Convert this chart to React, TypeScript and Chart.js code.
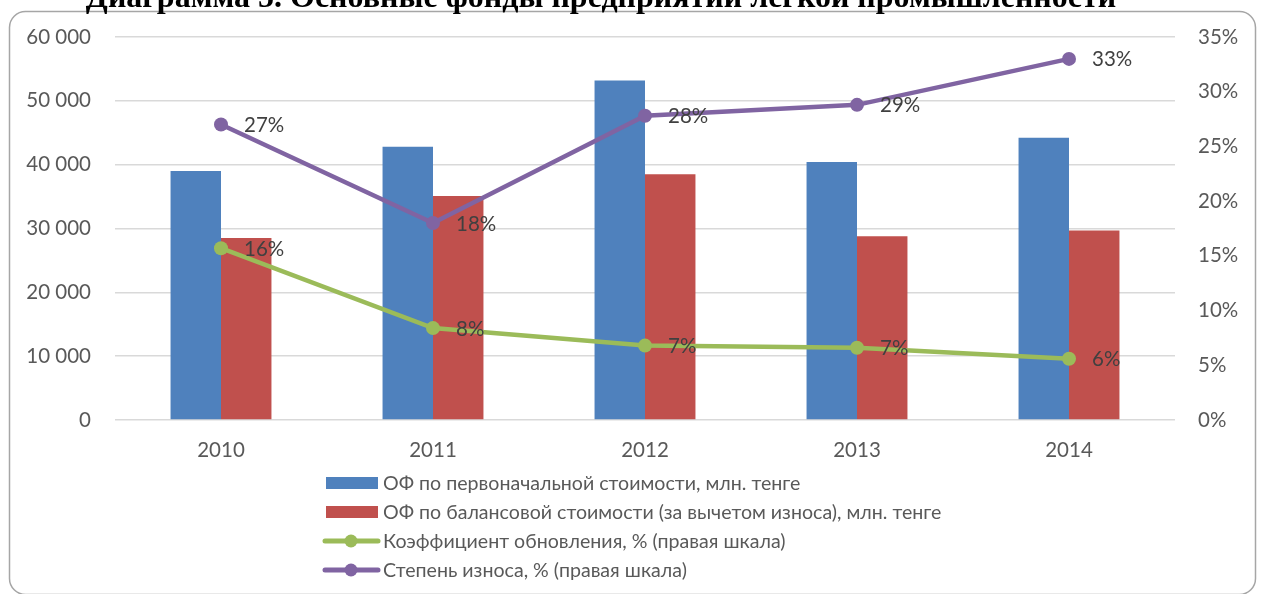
import React, { useEffect, useRef } from "react";
import { Chart, registerables } from "chart.js";

Chart.register(...registerables);

const TITLE = "Диаграмма 5. Основные фонды предприятий легкой промышленности";
const years = ["2010", "2011", "2012", "2013", "2014"];
const initialCost = [39000, 42800, 53200, 40400, 44200];
const balanceCost = [28500, 35100, 38500, 28800, 29700];
const renewalRate = [15.7, 8.4, 6.8, 6.6, 5.6];
const wearRate = [27.0, 18.0, 27.8, 28.8, 33.0];
const leftTicks = [0, 10000, 20000, 30000, 40000, 50000, 60000];
const rightTicks = [0, 5, 10, 15, 20, 25, 30, 35];

const seriesNames = [
  "ОФ по первоначальной стоимости, млн. тенге",
  "ОФ по балансовой стоимости (за вычетом износа), млн. тенге",
  "Коэффициент обновления, % (правая шкала)",
  "Степень износа, % (правая шкала)",
];
const colors = ["#4F81BD", "#C0504D", "#9BBB59", "#8064A2"];

const FONT = "Lato, 'Open Sans', sans-serif";
const FS = 20.5;
const LEGEND_FS = 19.6;

const fmtThousands = (v: number) =>
  String(v).replace(/\B(?=(\d{3})+(?!\d))/g, " ");

const decorPlugin = {
  id: "decor",
  beforeDraw(chart: any) {
    const ctx = chart.ctx;
    ctx.save();
    ctx.fillStyle = "#ffffff";
    ctx.fillRect(0, 0, chart.width, chart.height);
    ctx.beginPath();
    ctx.roundRect(9.5, 11.5, 1246, 583, 16);
    ctx.strokeStyle = "#a6a6a6";
    ctx.lineWidth = 1.5;
    ctx.stroke();
    ctx.font = `bold 32px 'Liberation Serif', serif`;
    ctx.fillStyle = "#000000";
    ctx.textAlign = "center";
    ctx.textBaseline = "alphabetic";
    ctx.fillText(TITLE, 601, 7);
    ctx.restore();
  },
  afterDatasetsDraw(chart: any) {
    const ctx = chart.ctx;
    ctx.save();
    ctx.font = `${FS}px ${FONT}`;
    ctx.fillStyle = "#404040";
    ctx.textAlign = "left";
    ctx.textBaseline = "middle";
    chart.data.datasets.forEach((ds: any, i: number) => {
      if (ds.type !== "line") return;
      const meta = chart.getDatasetMeta(i);
      meta.data.forEach((pt: any, j: number) => {
        ctx.fillText(Math.round(ds.data[j]) + "%", pt.x + 23, pt.y + 1);
      });
    });
    ctx.restore();
  },
  afterDraw(chart: any) {
    const ctx = chart.ctx;
    ctx.save();
    const rows = [483, 512, 541, 570];
    ctx.font = `${LEGEND_FS}px ${FONT}`;
    ctx.textAlign = "left";
    ctx.textBaseline = "middle";
    seriesNames.forEach((name, i) => {
      const y = rows[i];
      if (i < 2) {
        ctx.fillStyle = colors[i];
        ctx.fillRect(326, y - 6, 52, 12);
      } else {
        ctx.strokeStyle = colors[i];
        ctx.lineWidth = 5;
        ctx.lineCap = "round";
        ctx.beginPath();
        ctx.moveTo(325, y);
        ctx.lineTo(378, y);
        ctx.stroke();
        ctx.fillStyle = colors[i];
        ctx.beginPath();
        ctx.arc(351, y, 6.5, 0, Math.PI * 2);
        ctx.fill();
      }
      ctx.fillStyle = "#595959";
      ctx.fillText(name, 383, y + 1);
    });
    ctx.restore();
  },
};

export default function App() {
  const ref = useRef<HTMLCanvasElement | null>(null);
  useEffect(() => {
    if (!ref.current) return;
    const chart = new Chart(ref.current, {
      type: "bar",
      data: {
        labels: years,
        datasets: [
          {
            type: "line",
            label: seriesNames[2],
            data: renewalRate,
            yAxisID: "y1",
            borderColor: colors[2],
            backgroundColor: colors[2],
            borderWidth: 4.5,
            pointRadius: 7,
            pointBackgroundColor: colors[2],
            pointBorderWidth: 0,
            tension: 0,
            order: 0,
          },
          {
            type: "line",
            label: seriesNames[3],
            data: wearRate,
            yAxisID: "y1",
            borderColor: colors[3],
            backgroundColor: colors[3],
            borderWidth: 4.5,
            pointRadius: 7,
            pointBackgroundColor: colors[3],
            pointBorderWidth: 0,
            tension: 0,
            order: 0,
          },
          {
            type: "bar",
            label: seriesNames[0],
            data: initialCost,
            yAxisID: "y",
            backgroundColor: colors[0],
            barPercentage: 1,
            categoryPercentage: 0.476,
            order: 1,
          },
          {
            type: "bar",
            label: seriesNames[1],
            data: balanceCost,
            yAxisID: "y",
            backgroundColor: colors[1],
            barPercentage: 1,
            categoryPercentage: 0.476,
            order: 1,
          },
        ],
      } as any,
      options: {
        responsive: false,
        animation: false,
        layout: { padding: { top: 37, bottom: 100, left: 0, right: 0 } },
        plugins: {
          legend: { display: false },
          title: { display: false },
          tooltip: { enabled: false },
        },
        scales: {
          x: {
            grid: { display: false, drawTicks: false },
            border: { display: false },
            ticks: {
              color: "#595959",
              font: { family: FONT, size: FS },
              padding: 18,
            },
            afterFit(scale: any) {
              scale.height = 74;
              scale.paddingLeft = 0;
              scale.paddingRight = 0;
            },
          },
          y: {
            position: "left",
            min: 0,
            max: 60000,
            afterBuildTicks(scale: any) {
              scale.ticks = leftTicks.map((v) => ({ value: v }));
            },
            grid: { color: "#d9d9d9", lineWidth: 1.5, drawTicks: false },
            border: { display: false },
            ticks: {
              color: "#595959",
              font: { family: FONT, size: FS },
              padding: 24,
              callback: (v: any) => fmtThousands(Number(v)),
            },
            afterFit(scale: any) {
              scale.width = 115;
              scale.paddingTop = 0;
              scale.paddingBottom = 0;
            },
          },
          y1: {
            position: "right",
            min: 0,
            max: 35,
            afterBuildTicks(scale: any) {
              scale.ticks = rightTicks.map((v) => ({ value: v }));
            },
            grid: { display: false, drawTicks: false },
            border: { display: false },
            ticks: {
              color: "#595959",
              font: { family: FONT, size: FS },
              padding: 23,
              callback: (v: any) => `${v}%`,
            },
            afterFit(scale: any) {
              scale.width = 87;
              scale.paddingTop = 0;
              scale.paddingBottom = 0;
            },
          },
        },
      } as any,
      plugins: [decorPlugin],
    });
    return () => chart.destroy();
  }, []);

  return (
    <div
      style={{
        position: "absolute",
        left: 0,
        top: 0,
        width: 1262,
        height: 594,
        overflow: "hidden",
        background: "#fff",
      }}
    >
      <canvas ref={ref} width={1262} height={594} style={{ display: "block" }} />
    </div>
  );
}
